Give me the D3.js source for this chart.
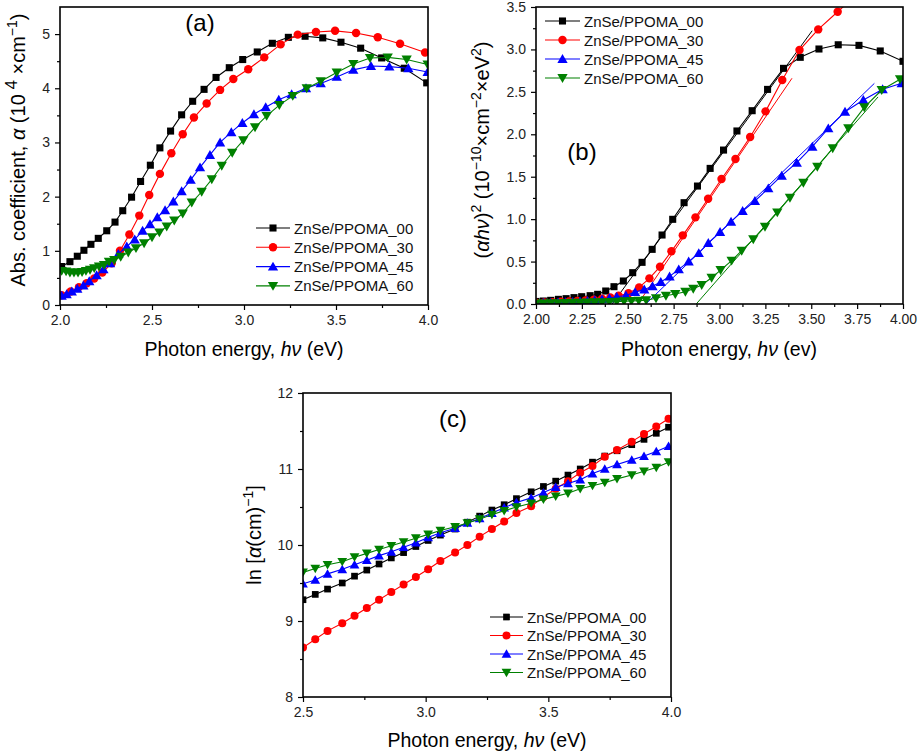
<!DOCTYPE html>
<html><head><meta charset="utf-8">
<script src="https://cdn.jsdelivr.net/npm/d3@7"></script>
<style>
body{margin:0;background:#fff}
text{font-family:"Liberation Sans",Arial,sans-serif}
</style>
</head><body>
<svg id="chart" width="918" height="753"></svg>
<script>
// ---------- DATA ----------
const seriesNames = ["ZnSe/PPOMA_00","ZnSe/PPOMA_30","ZnSe/PPOMA_45","ZnSe/PPOMA_60"];

// Panel (a): absorption coefficient (10^4 cm^-1) vs photon energy (eV)
const aX00 = [2.009,2.054,2.094,2.130,2.168,2.208,2.254,2.299,2.341,2.389,2.438,2.491,2.543,2.601,2.661,2.721,2.783,2.848,2.920,2.993,3.072,3.154,3.241,3.332,3.428,3.527,3.634,3.748,3.871,3.993];
const aY00 = [0.71,0.80,0.90,1.01,1.12,1.23,1.37,1.53,1.74,1.99,2.28,2.58,2.90,3.21,3.51,3.76,3.98,4.20,4.38,4.53,4.67,4.83,4.94,4.96,4.93,4.85,4.74,4.56,4.37,4.10];
const aX30 = [2.009,2.058,2.103,2.145,2.186,2.230,2.281,2.326,2.377,2.431,2.485,2.543,2.605,2.667,2.728,2.797,2.870,2.942,3.023,3.110,3.199,3.292,3.391,3.495,3.609,3.727,3.848,3.984];
const aY30 = [0.18,0.25,0.33,0.40,0.49,0.60,0.77,1.00,1.30,1.65,2.03,2.42,2.80,3.15,3.46,3.72,3.97,4.17,4.35,4.57,4.81,4.99,5.04,5.06,5.02,4.94,4.82,4.66];
const aX45 = [2.009,2.036,2.064,2.094,2.127,2.159,2.199,2.236,2.272,2.317,2.363,2.406,2.449,2.489,2.529,2.571,2.616,2.661,2.710,2.761,2.815,2.870,2.931,2.991,3.054,3.118,3.189,3.259,3.337,3.417,3.504,3.594,3.690,3.790,3.893,3.998];
const aY45 = [0.17,0.20,0.25,0.30,0.36,0.44,0.55,0.66,0.77,0.94,1.08,1.21,1.37,1.49,1.62,1.75,1.91,2.10,2.31,2.54,2.77,3.00,3.19,3.36,3.52,3.65,3.79,3.89,4.00,4.09,4.21,4.34,4.41,4.40,4.37,4.30];
const aX60 = [2.009,2.033,2.054,2.076,2.098,2.120,2.141,2.163,2.186,2.212,2.239,2.266,2.295,2.330,2.371,2.413,2.457,2.500,2.540,2.580,2.621,2.667,2.716,2.770,2.825,2.879,2.936,2.996,3.060,3.123,3.192,3.265,3.341,3.417,3.504,3.594,3.685,3.781,3.884,3.998];
const aY60 = [0.63,0.62,0.60,0.60,0.60,0.61,0.63,0.65,0.68,0.71,0.74,0.80,0.83,0.89,0.97,1.05,1.14,1.25,1.34,1.45,1.56,1.69,1.89,2.09,2.32,2.57,2.81,3.04,3.28,3.49,3.69,3.86,4.00,4.13,4.29,4.45,4.56,4.57,4.53,4.44];

// Panel (b): (alpha h nu)^2 (10^10 cm^-2 eV^2)
const bX00 = [2.000,2.040,2.080,2.122,2.164,2.207,2.249,2.295,2.336,2.380,2.425,2.476,2.527,2.578,2.633,2.687,2.745,2.807,2.880,2.949,3.022,3.095,3.178,3.262,3.349,3.440,3.542,3.647,3.760,3.876,4.000];
const bY00 = [0.03,0.035,0.043,0.055,0.063,0.075,0.086,0.098,0.114,0.153,0.204,0.271,0.369,0.491,0.644,0.813,0.998,1.194,1.390,1.598,1.814,2.039,2.278,2.529,2.777,2.907,3.005,3.055,3.048,2.982,2.860];
const bX30 = [2.000,2.045,2.090,2.135,2.180,2.225,2.270,2.315,2.360,2.405,2.450,2.504,2.562,2.618,2.676,2.738,2.800,2.869,2.938,3.011,3.087,3.167,3.251,3.342,3.436,3.538,3.644,3.755];
const bY30 = [0.015,0.018,0.022,0.026,0.03,0.035,0.042,0.05,0.062,0.078,0.098,0.126,0.196,0.302,0.440,0.621,0.809,1.021,1.241,1.473,1.709,1.968,2.270,2.640,2.993,3.236,3.444,3.66];
const bX45 = [2.000,2.040,2.080,2.120,2.160,2.200,2.240,2.280,2.320,2.360,2.400,2.440,2.490,2.540,2.590,2.635,2.680,2.728,2.778,2.832,2.887,2.939,3.003,3.063,3.126,3.193,3.266,3.339,3.421,3.506,3.593,3.684,3.784,3.889,3.993];
const bY45 = [0.01,0.012,0.014,0.017,0.02,0.025,0.03,0.036,0.045,0.055,0.068,0.085,0.10,0.14,0.17,0.21,0.26,0.325,0.408,0.50,0.60,0.72,0.848,0.97,1.096,1.214,1.363,1.512,1.665,1.854,2.07,2.266,2.404,2.53,2.601];
const bX60 = [2.000,2.040,2.080,2.120,2.160,2.200,2.240,2.280,2.320,2.360,2.400,2.440,2.480,2.520,2.560,2.600,2.654,2.708,2.759,2.814,2.857,2.903,2.957,3.006,3.066,3.121,3.184,3.248,3.315,3.384,3.457,3.533,3.617,3.702,3.789,3.884,3.984];
const bY60 = [0.005,0.006,0.008,0.01,0.012,0.014,0.016,0.018,0.02,0.022,0.025,0.028,0.032,0.036,0.04,0.045,0.067,0.098,0.118,0.145,0.18,0.224,0.31,0.40,0.511,0.628,0.762,0.911,1.080,1.253,1.429,1.618,1.835,2.070,2.318,2.522,2.648];
// Tauc linear fits (endpoints)
const fitX00 = [2.415,3.505], fitY00 = [0,3.22];
const fitX30 = [2.555,3.395], fitY30 = [0,2.66];
const fitX45 = [2.598,3.844], fitY45 = [0,2.60];
const fitX60 = [2.873,3.864], fitY60 = [0,2.44];

// Panel (c): ln[alpha] vs photon energy
const cX = [2.50,2.55,2.60,2.66,2.71,2.76,2.81,2.86,2.91,2.96,3.01,3.06,3.12,3.17,3.22,3.27,3.32,3.37,3.43,3.48,3.53,3.58,3.63,3.68,3.73,3.78,3.84,3.89,3.94,3.99];
const cY00 = [9.28,9.35,9.42,9.50,9.59,9.67,9.75,9.83,9.90,9.98,10.06,10.13,10.21,10.30,10.38,10.46,10.53,10.61,10.70,10.77,10.84,10.92,11.00,11.09,11.17,11.24,11.32,11.39,11.47,11.55];
const cY30 = [8.65,8.76,8.87,8.97,9.07,9.17,9.28,9.38,9.48,9.58,9.68,9.79,9.90,10.00,10.11,10.21,10.31,10.42,10.51,10.63,10.74,10.84,10.95,11.04,11.16,11.25,11.36,11.46,11.56,11.66];
const cY45 = [9.49,9.54,9.62,9.68,9.74,9.80,9.86,9.91,9.97,10.03,10.10,10.16,10.22,10.29,10.35,10.42,10.49,10.56,10.62,10.69,10.76,10.81,10.86,10.94,11.00,11.06,11.12,11.17,11.23,11.30];
const cY60 = [9.64,9.69,9.74,9.78,9.84,9.89,9.94,9.99,10.04,10.09,10.14,10.19,10.24,10.29,10.34,10.40,10.45,10.50,10.55,10.60,10.64,10.68,10.74,10.78,10.82,10.87,10.92,10.97,11.02,11.09];

// Tick values
const aXMajor = [2.0,2.5,3.0,3.5,4.0], aXMinor = [2.25,2.75,3.25,3.75];
const aYMajor = [0,1,2,3,4,5], aYMinor = [0.5,1.5,2.5,3.5,4.5];
const bXMajor = [2.00,2.25,2.50,2.75,3.00,3.25,3.50,3.75,4.00], bXMinor = [2.125,2.375,2.625,2.875,3.125,3.375,3.625,3.875];
const bYMajor = [0,0.5,1.0,1.5,2.0,2.5,3.0,3.5], bYMinor = [0.25,0.75,1.25,1.75,2.25,2.75,3.25];
const cXMajor = [2.5,3.0,3.5,4.0], cXMinor = [2.75,3.25,3.75];
const cYMajor = [8,9,10,11,12], cYMinor = [8.5,9.5,10.5,11.5];

// ---------- DRAW ----------
const svg = d3.select("#chart");
const colors = ["#000000","#ff0000","#0000ff","#008000"];
const symbols = [d3.symbolSquare, d3.symbolCircle, d3.symbolTriangle, d3.symbolTriangle];
const symSize = [50, 56, 46, 46];
const flip = [false,false,false,true];

function marker(sel, i, x, y, scale) {
  const s = scale || 1;
  sel.append("path")
    .attr("d", d3.symbol().type(symbols[i]).size(symSize[i]*s)())
    .attr("transform", `translate(${x},${y})` + (flip[i] ? " rotate(180)" : "") + (i>=2 ? " translate(0,1)" : ""))
    .attr("fill", colors[i]);
}

function panel(o) {
  const x = d3.scaleLinear().domain(o.xd).range([o.L, o.R]);
  const y = d3.scaleLinear().domain(o.yd).range([o.B, o.T]);
  const g = svg.append("g");
  const cid = "clip_" + o.name;
  svg.append("clipPath").attr("id", cid).append("rect")
    .attr("x", o.L).attr("y", o.T).attr("width", o.R - o.L).attr("height", o.B - o.T);

  const styleAxis = ax => {
    ax.select(".domain").remove();
    ax.selectAll("line").attr("stroke", "#000").attr("stroke-width", 1.2);
    ax.selectAll("text").attr("font-size", 14).attr("fill", "#222")
      .attr("font-family", '"Liberation Sans",Arial,sans-serif');
  };
  g.append("g").attr("transform", `translate(0,${o.B})`)
    .call(d3.axisBottom(x).tickValues(o.xMinor).tickSize(3).tickFormat("")).call(styleAxis);
  g.append("g").attr("transform", `translate(0,${o.B})`)
    .call(d3.axisBottom(x).tickValues(o.xMajor).tickSize(5).tickPadding(5).tickFormat(d3.format(o.xf))).call(styleAxis);
  g.append("g").attr("transform", `translate(${o.L},0)`)
    .call(d3.axisLeft(y).tickValues(o.yMinor).tickSize(3).tickFormat("")).call(styleAxis);
  g.append("g").attr("transform", `translate(${o.L},0)`)
    .call(d3.axisLeft(y).tickValues(o.yMajor).tickSize(5).tickPadding(5).tickFormat(d3.format(o.yf))).call(styleAxis);

  const plot = g.append("g").attr("clip-path", `url(#${cid})`);
  const line = d3.line().x(d => x(d[0])).y(d => y(d[1]));

  (o.fits || []).forEach((f, i) => {
    plot.append("path").attr("d", line(d3.zip(f[0], f[1])))
      .attr("fill", "none").attr("stroke", colors[i]).attr("stroke-width", 1);
  });

  o.series.forEach((s, i) => {
    const pts = d3.zip(s[0], s[1]);
    plot.append("path").attr("d", line(pts)).attr("fill", "none")
      .attr("stroke", colors[i]).attr("stroke-width", 1.1);
    const mg = plot.append("g");
    pts.forEach(p => marker(mg, i, x(p[0]), y(p[1]), o.ms));
  });

  g.append("rect").attr("x", o.L).attr("y", o.T).attr("width", o.R - o.L).attr("height", o.B - o.T)
    .attr("fill", "none").attr("stroke", "#000").attr("stroke-width", 1.6);

  // legend
  const lg = g.append("g");
  seriesNames.forEach((n, i) => {
    const yy = o.leg.y + i * o.leg.dy;
    lg.append("line").attr("x1", o.leg.x1).attr("x2", o.leg.x2).attr("y1", yy).attr("y2", yy)
      .attr("stroke", colors[i]).attr("stroke-width", 1.1);
    marker(lg, i, (o.leg.x1 + o.leg.x2) / 2, yy, o.ms);
    lg.append("text").attr("x", o.leg.x2 + 4).attr("y", yy + 5.5).attr("font-size", 15).attr("fill", "#111").text(n);
  });

  // panel label
  g.append("text").attr("x", o.lab[0]).attr("y", o.lab[1]).attr("text-anchor", "middle")
    .attr("font-size", 24).text(o.lab[2]);

  // x title
  const xt = g.append("text").attr("x", o.xt[0]).attr("y", o.xt[1]).attr("text-anchor", "middle").attr("font-size", 19.5);
  xt.append("tspan").text("Photon energy, ");
  xt.append("tspan").attr("font-style", "italic").text("hν");
  xt.append("tspan").text(" " + o.xunit);

  // y title
  const yt = g.append("text").attr("transform", `translate(${o.yt[0]},${o.yt[1]}) rotate(-90)`)
    .attr("text-anchor", "middle").attr("font-size", 20);
  o.ytParts.forEach(p => {
    const t = yt.append("tspan").text(p.t);
    if (p.i) t.attr("font-style", "italic");
    if (p.sup) t.attr("font-size", p.big ? 17 : 14).attr("dy", -8);
    if (p.down) t.attr("dy", 8);
  });
}

panel({
  name: "a", L: 60, R: 428, T: 7, B: 305, xd: [2, 4], yd: [0, 5.5],
  xMajor: aXMajor, xMinor: aXMinor, yMajor: aYMajor, yMinor: aYMinor, xf: ".1f", yf: "d",
  series: [[aX00, aY00], [aX30, aY30], [aX45, aY45], [aX60, aY60]],
  leg: { x1: 256, x2: 290, y: 228, dy: 19.3 },
  lab: [200, 31, "(a)"], xt: [244, 356], xunit: "(eV)", yt: [25, 150],
  ytParts: [{t: "Abs. coefficient, "}, {t: "α", i: true}, {t: " (10"}, {t: " 4", sup: true, big: true}, {t: " ×cm", down: true},
            {t: "−1", sup: true}, {t: ")", down: true}]
});

panel({
  name: "b", L: 536, R: 903, T: 7, B: 304, xd: [2, 4], yd: [0, 3.5],
  xMajor: bXMajor, xMinor: bXMinor, yMajor: bYMajor, yMinor: bYMinor, xf: ".2f", yf: ".1f",
  series: [[bX00, bY00], [bX30, bY30], [bX45, bY45], [bX60, bY60]],
  fits: [[fitX00, fitY00], [fitX30, fitY30], [fitX45, fitY45], [fitX60, fitY60]],
  leg: { x1: 545, x2: 580, y: 21, dy: 19 },
  lab: [582, 160, "(b)"], xt: [719, 356], xunit: "(ev)", yt: [489, 150],
  ytParts: [{t: "("}, {t: "αhν", i: true}, {t: ")"}, {t: "2", sup: true}, {t: " (10", down: true}, {t: "−10", sup: true},
            {t: "×cm", down: true}, {t: "−2", sup: true}, {t: "×eV", down: true}, {t: "2", sup: true}, {t: ")", down: true}]
});

panel({
  name: "c", L: 303, R: 671, T: 393, B: 697, xd: [2.5, 4], yd: [8, 12], ms: 0.9,
  xMajor: cXMajor, xMinor: cXMinor, yMajor: cYMajor, yMinor: cYMinor, xf: ".1f", yf: "d",
  series: [[cX, cY00], [cX, cY30], [cX, cY45], [cX, cY60]],
  leg: { x1: 490, x2: 523, y: 617, dy: 18.5 },
  lab: [453, 427, "(c)"], xt: [487, 747], xunit: "(eV)", yt: [261, 535],
  ytParts: [{t: "ln ["}, {t: "α", i: true}, {t: "(cm)"}, {t: "−1", sup: true}, {t: "]", down: true}]
});
</script>
</body></html>
